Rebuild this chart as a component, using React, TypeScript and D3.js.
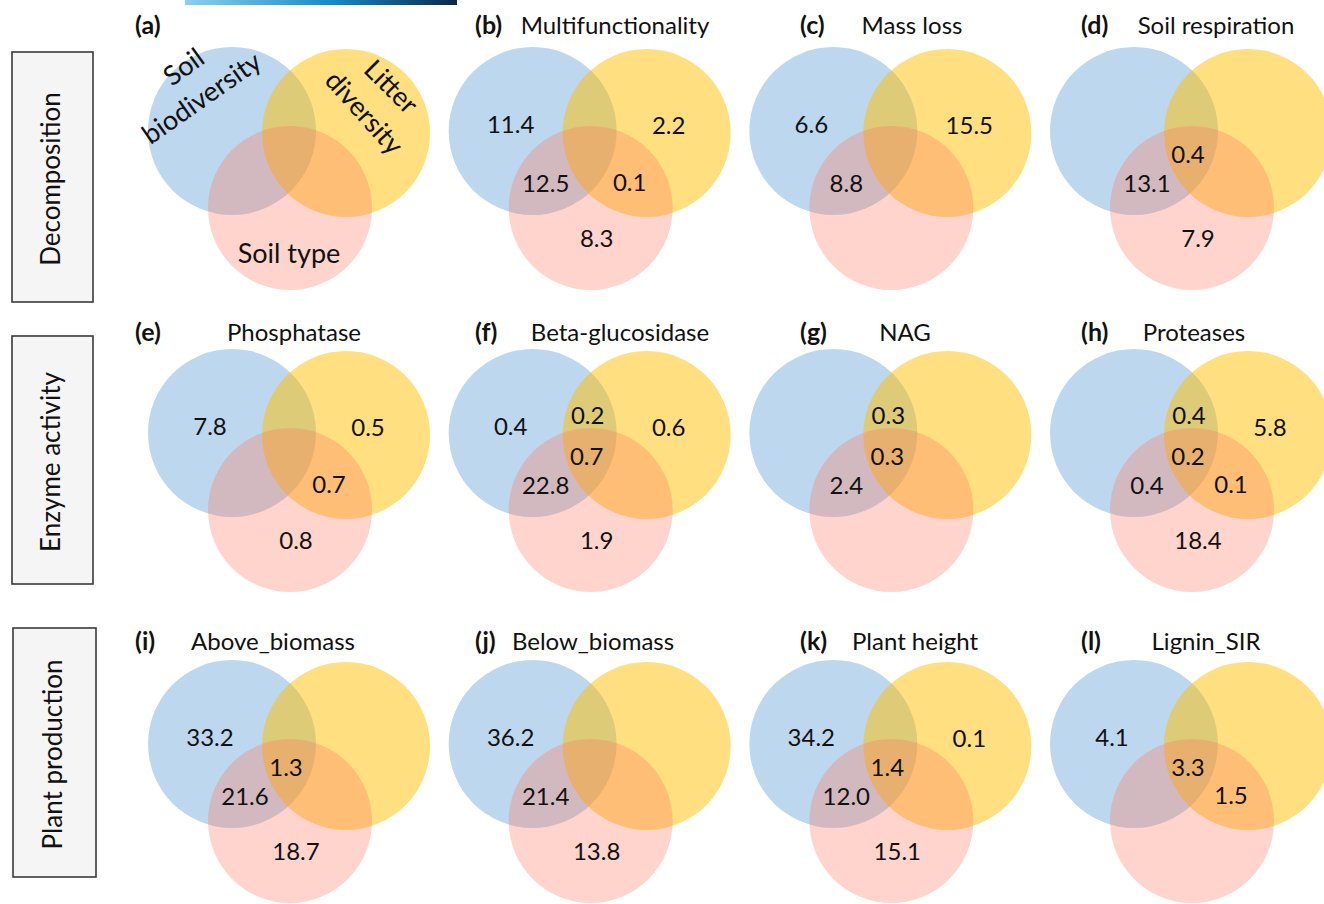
import React from "react";
import * as d3 from "d3";

// ---------- data ----------
const panelLetters = ["a", "b", "c", "d", "e", "f", "g", "h", "i", "j", "k", "l"];
const panelTitles = [
  "", "Multifunctionality", "Mass loss", "Soil respiration",
  "Phosphatase", "Beta-glucosidase", "NAG", "Proteases",
  "Above_biomass", "Below_biomass", "Plant height", "Lignin_SIR",
];
const rowLabels = ["Decomposition", "Enzyme activity", "Plant production"];
const setNames = ["Soil biodiversity", "Litter diversity", "Soil type"];

// variance explained (%) per Venn region, one entry per panel (null = not shown)
const onlyBiodiv = [null, 11.4, 6.6, null, 7.8, 0.4, null, null, 33.2, 36.2, 34.2, 4.1];
const onlyLitter = [null, 2.2, 15.5, null, 0.5, 0.6, null, 5.8, null, null, 0.1, null];
const onlySoil = [null, 8.3, null, 7.9, 0.8, 1.9, null, 18.4, 18.7, 13.8, 15.1, null];
const biodivLitter = [null, null, null, null, null, 0.2, 0.3, 0.4, null, null, null, null];
const biodivSoil = [null, 12.5, 8.8, 13.1, null, 22.8, 2.4, 0.4, 21.6, 21.4, 12.0, null];
const litterSoil = [null, 0.1, null, null, 0.7, null, null, 0.1, null, null, null, 1.5];
const allThree = [null, null, null, 0.4, null, 0.7, 0.3, 0.2, 1.3, null, 1.4, 3.3];

// ---------- layout ----------
const W = 1324, H = 904;
const colX = d3.scalePoint<number>().domain([0, 1, 2, 3]).range([232, 1134]);
const rowY = [131, 433, 744];
const letterX = [135, 475, 800, 1081];
const titleBase = [34, 341, 650];
const titleCX = [0, 615, 912, 1216, 294, 620, 905, 1194, 273, 593, 915, 1206];
const R = 84, RP = 82;
// circle centres relative to the blue circle
const circ = [
  { dx: 0, dy: 0, r: R, fill: "#5B9BD5", op: 0.4 },
  { dx: 114, dy: 2, r: R, fill: "#FFC000", op: 0.5 },
  { dx: 58, dy: 77, r: RP, fill: "#FF785F", op: 0.32 },
];
// label anchor for each region
const regionSeries = [
  { vals: onlyBiodiv, dx: -22, dy: -8 },
  { vals: onlyLitter, dx: 136, dy: -7 },
  { vals: onlySoil, dx: 64, dy: 106 },
  { vals: biodivLitter, dx: 55, dy: -19 },
  { vals: biodivSoil, dx: 13, dy: 51 },
  { vals: litterSoil, dx: 97, dy: 50 },
  { vals: allThree, dx: 54, dy: 22 },
];
const rowBoxes = [
  { x: 12, y: 52, w: 81, h: 250 },
  { x: 12, y: 336, w: 81, h: 248 },
  { x: 13, y: 628, w: 83, h: 249 },
];

const FONT = "Lato, 'Open Sans', sans-serif";
const fmt = d3.format(".1f");

export default function App() {
  return (
    <svg width={W} height={H} style={{ position: "absolute", left: 0, top: 0, display: "block" }} fontFamily={FONT}>
      <defs>
        <linearGradient id="topbar" x1="0" x2="1" y1="0" y2="0">
          <stop offset="0" stopColor="#8BD0F2" />
          <stop offset="0.55" stopColor="#1488C9" />
          <stop offset="1" stopColor="#0B2747" />
        </linearGradient>
      </defs>
      <rect x={185} y={0} width={272} height={5} fill="url(#topbar)" />

      {rowLabels.map((lab, i) => {
        const b = rowBoxes[i];
        return (
          <g key={lab}>
            <rect x={b.x} y={b.y} width={b.w} height={b.h} fill="#F5F5F5" stroke="#3A3A3A" strokeWidth={1.6} />
            <text
              transform={`translate(${b.x + b.w / 2 - 3},${b.y + b.h / 2 + 2}) rotate(-90)`}
              textAnchor="middle"
              dominantBaseline="central"
              fontSize={26}
              fill="#111"
            >
              {lab}
            </text>
          </g>
        );
      })}

      {panelLetters.map((L, p) => {
        const col = p % 4, row = Math.floor(p / 4);
        const cx = colX(col) as number, cy = rowY[row];
        return (
          <g key={L}>
            {circ.map((c, k) => (
              <circle key={k} cx={cx + c.dx} cy={cy + c.dy} r={c.r} fill={c.fill} fillOpacity={c.op} />
            ))}
            <text x={letterX[col]} y={titleBase[row]} fontSize={25} fontWeight={700} fill="#111">
              ({L})
            </text>
            {panelTitles[p] && (
              <text x={titleCX[p]} y={titleBase[row]} fontSize={24} textAnchor="middle" fill="#111">
                {panelTitles[p]}
              </text>
            )}
            {regionSeries.map((s, k) =>
              s.vals[p] == null ? null : (
                <text
                  key={k}
                  x={cx + s.dx}
                  y={cy + s.dy}
                  textAnchor="middle"
                  dominantBaseline="central"
                  fontSize={24}
                  fill="#111"
                >
                  {fmt(s.vals[p] as number)}
                </text>
              )
            )}
          </g>
        );
      })}

      {/* set names in panel (a) */}
      <g fontSize={27} fill="#111" textAnchor="middle" dominantBaseline="central">
        <text transform="translate(183,66) rotate(-36)">{setNames[0].split(" ")[0]}</text>
        <text transform="translate(201,97) rotate(-35)">{setNames[0].split(" ")[1]}</text>
        <text transform="translate(392,86) rotate(45)">{setNames[1].split(" ")[0]}</text>
        <text transform="translate(365,112) rotate(48)">{setNames[1].split(" ")[1]}</text>
        <text x={289} y={252}>{setNames[2]}</text>
      </g>
    </svg>
  );
}
